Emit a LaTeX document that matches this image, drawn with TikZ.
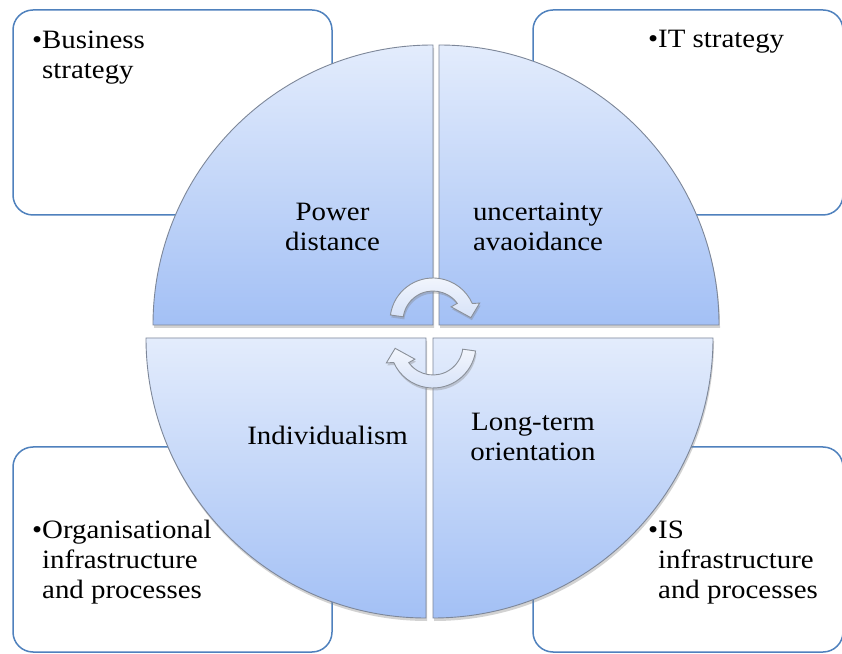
\documentclass[tikz,border=0pt]{standalone}
\usepackage{fontspec}
\setmainfont{Liberation Serif}[FakeStretch=1.09]
\usetikzlibrary{shadows}
\definecolor{boxline}{HTML}{4F81BD}
\definecolor{quadtop}{HTML}{E3ECFC}
\definecolor{quadbot}{HTML}{A3C0F5}
\definecolor{quadedge}{HTML}{7D8799}
\definecolor{arrowtop}{HTML}{F3F6FD}
\definecolor{arrowbot}{HTML}{D6E2F8}
\definecolor{arrowedge}{HTML}{8A9099}
\begin{document}
\begin{tikzpicture}[x=1pt,y=1pt,
  font=\fontsize{26.5}{30}\selectfont,
  infobox/.style={draw=boxline, line width=1.5pt, rounded corners=20pt, fill=white, inner sep=0pt},
  listtext/.style={align=left, inner sep=0pt, anchor=base west},
  quadtext/.style={align=center, inner sep=0pt, anchor=base},
  quad/.style={draw=quadedge, line width=0.9pt, top color=quadtop, bottom color=quadbot,
    drop shadow={opacity=0.35, shadow xshift=1pt, shadow yshift=-3pt}},
  cyclearrow/.style={draw=arrowedge, line width=0.9pt, top color=arrowtop, bottom color=arrowbot,
    drop shadow={opacity=0.35, shadow xshift=1pt, shadow yshift=-2.5pt}}]
\useasboundingbox (0,0) rectangle (842,653);
\fill[white] (0,0) rectangle (842,653);

% corner boxes behind the circle
\node[infobox, minimum width=319, minimum height=205] (boxTL) at (172.5,540.5) {};
\node[infobox, minimum width=310, minimum height=205] (boxTR) at (688,540.5) {};
\node[infobox, minimum width=319, minimum height=205] (boxBL) at (172.5,103.5) {};
\node[infobox, minimum width=310, minimum height=205] (boxBR) at (688,103.5) {};

% four quadrants of the circle
\path[quad] (433,328) -- (153,328) arc[start angle=180, end angle=90, radius=280] -- cycle;
\path[quad] (439,328) -- (439,608) arc[start angle=90, end angle=0, radius=280] -- cycle;
\path[quad] (426,315) -- (146,315) arc[start angle=180, end angle=270, radius=280] -- cycle;
\path[quad] (433,315) -- (713,315) arc[start angle=0, end angle=-90, radius=280] -- cycle;

% box texts (base anchor sits on the last line)
\node[listtext] (txtTL) at (42,574) {\llap{•}Business\\strategy};
\node[listtext] (txtTR) at (658,605) {\llap{•}IT strategy};
\node[listtext] (txtBL) at (42,55) {\llap{•}Organisational\\infrastructure\\and processes};
\node[listtext] (txtBR) at (658,55) {\llap{•}IS\\infrastructure\\and processes};

% quadrant labels
\node[quadtext] (qTL) at (332.5,402) {Power\\distance};
\node[quadtext] (qTR) at (538,402) {uncertainty\\avaoidance};
\node[quadtext] (qBL) at (327.5,208) {Individualism};
\node[quadtext] (qBR) at (533,192) {Long-term\\orientation};

% circular arrows in the middle
\begin{scope}[shift={(433,332)}]
  \path[cyclearrow] (172:43) arc[start angle=172, end angle=24, radius=43]
    -- (21:50) -- (5:38) -- (38:23) -- (36:30)
    arc[start angle=36, end angle=172, radius=30] -- cycle;
\end{scope}
\begin{scope}[shift={(433,308)}, rotate=180]
  \path[cyclearrow] (172:43) arc[start angle=172, end angle=24, radius=43]
    -- (21:50) -- (5:38) -- (38:23) -- (36:30)
    arc[start angle=36, end angle=172, radius=30] -- cycle;
\end{scope}
\end{tikzpicture}
\end{document}
